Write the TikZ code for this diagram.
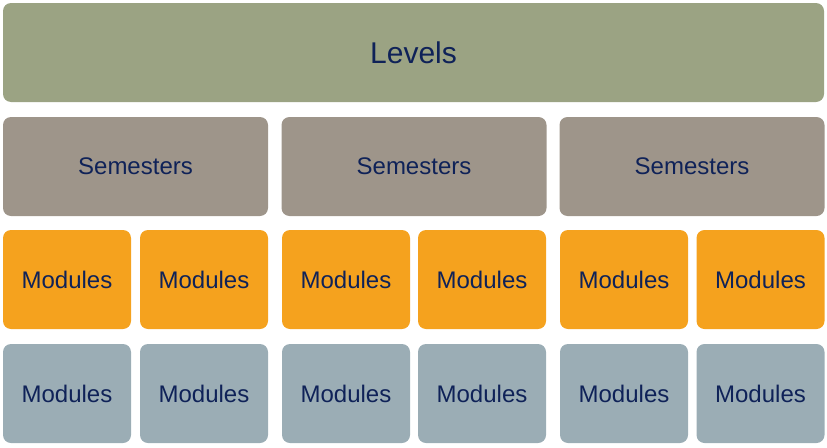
\documentclass[tikz,border=0pt]{standalone}
\usepackage{fontspec}
\setmainfont{Liberation Sans}
\usepackage{xcolor}
\definecolor{levelgreen}{HTML}{9BA383}
\definecolor{semgrey}{HTML}{9E958A}
\definecolor{modorange}{HTML}{F5A21E}
\definecolor{modblue}{HTML}{9BADB5}
\definecolor{textnavy}{HTML}{0F2258}

\begin{document}
\begin{tikzpicture}[
    x=1pt, y=-1pt,
    box/.style={rounded corners=8pt, inner sep=0pt, text=textnavy, font=\fontsize{24}{28}\selectfont},
    level/.style={box, fill=levelgreen, minimum width=821pt, minimum height=99pt, font=\fontsize{30}{34}\selectfont},
    semester/.style={box, fill=semgrey, minimum width=265pt, minimum height=99pt},
    module/.style={box, fill=modorange, minimum width=128pt, minimum height=99pt},
    modulealt/.style={box, fill=modblue, minimum width=128pt, minimum height=99pt}
  ]
  \useasboundingbox (0,0) rectangle (827,447);
  \node[level] (levels) at (413.5, 52.5) {Levels};
  \node[semester] (sem1) at (135.5, 166.5) {Semesters};
  \node[semester] (sem2) at (414, 166.5) {Semesters};
  \node[semester] (sem3) at (692, 166.5) {Semesters};
  \node[module] (mod1) at (67, 279.5) {Modules};
  \node[module] (mod2) at (204, 279.5) {Modules};
  \node[module] (mod3) at (346, 279.5) {Modules};
  \node[module] (mod4) at (482, 279.5) {Modules};
  \node[module] (mod5) at (624, 279.5) {Modules};
  \node[module] (mod6) at (760.5, 279.5) {Modules};
  \node[modulealt] (alt1) at (67, 393.5) {Modules};
  \node[modulealt] (alt2) at (204, 393.5) {Modules};
  \node[modulealt] (alt3) at (346, 393.5) {Modules};
  \node[modulealt] (alt4) at (482, 393.5) {Modules};
  \node[modulealt] (alt5) at (624, 393.5) {Modules};
  \node[modulealt] (alt6) at (760.5, 393.5) {Modules};
\end{tikzpicture}
\end{document}
